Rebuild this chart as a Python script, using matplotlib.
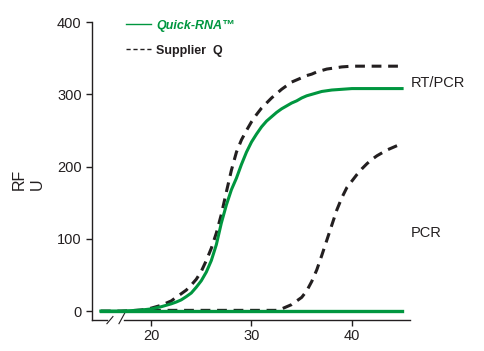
import matplotlib
matplotlib.use("Agg")
import matplotlib.pyplot as plt
import numpy as np
from matplotlib.lines import Line2D

plt.rcParams["font.family"] = ["Liberation Sans", "DejaVu Sans"]

# ---------------- data ----------------
# readings every half cycle, 15 .. 45
cycles = np.arange(15, 45.01, 0.5)

# Quick-RNA, RT/PCR (green, solid)
quick_rtpcr = [0, 0, 0, 0, 0, 0.3, 0.6, 1, 1.5, 2.2,
               3, 4.5, 6, 8, 10, 12.5, 15.5, 20, 25, 33,
               42, 54, 70, 92, 122, 147, 168, 184, 203, 220,
               234, 245, 255, 263, 269, 275, 280, 284, 288, 291,
               295, 298, 300, 302, 304, 305, 306, 306.5, 307, 307.5,
               308, 308, 308, 308, 308, 308, 308, 308, 308, 308, 308]
# Quick-RNA, PCR (green, flat)
quick_pcr = [0] * 61

# Supplier Q, RT/PCR (black, dashed)
supq_rtpcr = [0, 0, 0, 0, 0, 0.3, 0.6, 1, 1.5, 2.5,
              4, 6, 8, 11, 14, 19, 24, 29, 36, 44,
              55, 70, 87, 108, 134, 165, 195, 220, 237, 250,
              262, 272, 281, 288, 295, 301, 307, 312, 317, 320,
              323, 326, 328, 331, 333, 335, 336, 337, 338, 338.5,
              339, 339, 339, 339, 339, 339, 339, 339, 339, 339, 339]
# Supplier Q, PCR (black, dashed)
supq_pcr = [1] * 36 + [3, 6, 9, 14, 19, 28, 41, 57, 77, 98,
                       119, 140, 157, 171, 180, 189, 197, 204, 210, 215,
                       219, 223, 226, 229, 231]

y_ticks = [0, 100, 200, 300, 400]
x_ticks = [20, 30, 40]

GREEN = "#00963f"
DARK = "#231f20"
DASH = (0, (3.2, 2.2))

# ---------------- figure ----------------
fig = plt.figure(figsize=(4.85, 3.51), dpi=100)
ax = fig.add_axes([0.19, 0.088, 0.655, 0.849])

ax.plot(cycles[10:], supq_pcr[10:], color=DARK, lw=2.2, ls=DASH, zorder=2)
ax.plot(cycles, quick_pcr, color=GREEN, lw=2.4, zorder=3)
ax.plot(cycles, supq_rtpcr, color=DARK, lw=2.2, ls=DASH, zorder=2)
ax.plot(cycles, quick_rtpcr, color=GREEN, lw=2.2, zorder=3)

ax.set_xlim(14.13, 45.77)
ax.set_ylim(-12.5, 400)
ax.set_xticks(x_ticks)
ax.set_yticks(y_ticks)

for s in ("top", "right"):
    ax.spines[s].set_visible(False)
for s in ("left", "bottom"):
    ax.spines[s].set_color(DARK)
    ax.spines[s].set_linewidth(1.0)
ax.spines["left"].set_bounds(-12.5, 400)
ax.spines["bottom"].set_bounds(17.3, 45.77)
ax.tick_params(axis="both", colors=DARK, labelsize=10.5, length=4.5, width=1.0, pad=3)
ax.tick_params(axis="x", pad=2)

# broken-axis stub and slashes
tr = ax.get_xaxis_transform()
ax.plot([14.13, 15.6], [0, 0], color=DARK, lw=1.0, transform=tr, clip_on=False)
ax.plot([15.6, 16.2], [-0.012, 0.012], color=DARK, lw=0.8, transform=tr, clip_on=False)
ax.plot([16.8, 17.4], [-0.012, 0.025], color=DARK, lw=0.8, transform=tr, clip_on=False)

# curve labels
ax.text(45.9, 316, "RT/PCR", fontsize=10.5, color=DARK, va="center", ha="left", clip_on=False)
ax.text(45.9, 108, "PCR", fontsize=10.5, color=DARK, va="center", ha="left", clip_on=False)

# y label
fig.text(0.058, 0.49, "RF\nU", rotation=90, fontsize=11.5, color=DARK,
         ha="center", va="center", multialignment="left")

# legend
handles = [Line2D([], [], color=GREEN, lw=1.0),
           Line2D([], [], color=DARK, lw=1.0, ls=(0, (3, 2)))]
leg = fig.legend(handles, ["Quick-RNA\u2122", "Supplier  Q"], loc="upper left",
                 bbox_to_anchor=(0.246, 0.962), frameon=False, fontsize=9,
                 handlelength=2.0, handletextpad=0.45, labelspacing=1.05, borderpad=0)
t0, t1 = leg.get_texts()
t0.set_color(GREEN)
t0.set_fontstyle("italic")
t0.set_fontweight("bold")
t1.set_color(DARK)
t1.set_fontweight("bold")

fig.savefig("out.png", dpi=100)
